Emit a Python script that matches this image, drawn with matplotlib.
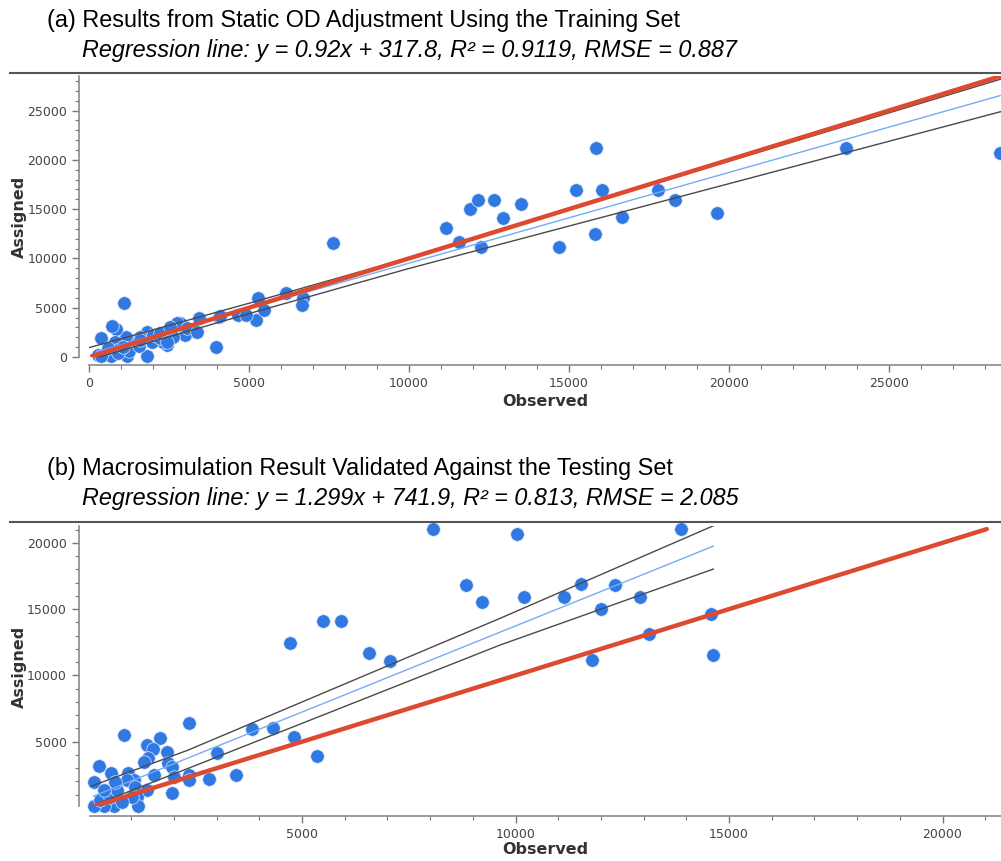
import numpy as np
import matplotlib
matplotlib.use("Agg")
import matplotlib.pyplot as plt

# --- (a) training set ---
obs_a = [7635, 11156, 11572, 11906, 12146, 12250, 12666, 12947, 13490, 14688,
         15229, 15853, 15813, 16031, 16646, 17781, 18303, 19615, 23656, 28470,
         1104, 6678, 6650, 6156, 5271, 5219, 5469, 4666, 4906, 4063,
         3969, 3447, 3334, 3000, 2844, 2740, 2635, 2428, 2323, 1958,
         1802, 1802, 1594, 1177, 1156, 844, 709, 813, 375, 594,
         281, 698, 1198, 1250, 885, 1490, 2010, 2220, 580, 365,
         910, 1560, 1060, 1594, 2219, 3053, 2531, 3365, 4094, 2428]
asg_a = [11560, 13110, 11630, 15007, 15920, 11120, 15920, 14125, 15545, 11120,
         16934, 21160, 12503, 16934, 14166, 16934, 15920, 14632, 21160, 20655,
         5445, 5952, 5273, 6520, 5952, 3752, 4766, 4259, 4259, 4087,
         1045, 3924, 2565, 2230, 3417, 3400, 2060, 1217, 1555, 1555,
         2565, 100, 2060, 100, 2060, 2810, 3143, 1555, 1893, 372,
         170, 100, 900, 560, 730, 1390, 2230, 1890, 900, 100,
         420, 1120, 1060, 1724, 2400, 2910, 3072, 2565, 4157, 1555]
slope_a, icpt_a = 0.92, 317.8
band_x_a = [0, 5000, 10000, 28500]
band_up_a = [950, 5450, 10060, 28190]
band_lo_a = [-300, 4400, 8980, 24890]

# --- (b) testing set ---
obs_b = [8075, 8834, 9223, 5499, 5914, 4719, 6577, 7061, 3837, 4313,
         4813, 5344, 3454, 2829, 3002, 2354, 2354, 2354, 1675, 1363,
         1518, 1387, 1300, 1831, 1870, 1948, 2002, 1963, 1541, 831,
         246, 129, 527, 932, 1055, 898, 1094, 1363, 1129, 1167,
         586, 352, 117, 273, 507, 664, 352, 625, 1014, 781,
         10043, 10207, 11143, 11541, 11792, 12003, 12331, 12916, 13135, 13877,
         14579, 14633]
asg_b = [21037, 16814, 15555, 14100, 14100, 12467, 11663, 11110, 5957, 6057,
         5378, 3921, 2488, 2162, 4172, 6434, 2488, 2111, 5253, 4750,
         4424, 3770, 3443, 4248, 3368, 3117, 2363, 1106, 2488, 5479,
         3167, 1985, 2614, 2614, 2110, 2110, 1608, 1357, 852, 151,
         151, 151, 151, 603, 852, 1357, 1357, 1985, 852, 477,
         20660, 15887, 15887, 16912, 11137, 14982, 16837, 15887, 13120, 21037,
         14605, 11536]
slope_b, icpt_b = 1.299, 741.9
band_x_b = [75, 2337, 9637, 14633]
band_up_b = [1659, 4373, 14303, 21286]
band_lo_b = [151, 2993, 12290, 18021]

W, H = 1001, 861
fig = plt.figure(figsize=(W / 100, H / 100), dpi=100)


def box(x0, y0, x1, y1):
    # pixel box (top-left origin) -> figure fraction
    return [x0 / W, 1 - y1 / H, (x1 - x0) / W, (y1 - y0) / H]


def panel(ax, obs, asg, slope, icpt, bx, bup, blo, xlim, ylim, xoff, yoff):
    obs = np.array(obs)
    asg = np.array(asg)
    ax.scatter(obs, asg, s=95, color="#3079e3", edgecolors="#dfe9f8",
               linewidths=0.5, zorder=2, clip_on=False)
    ax.plot(bx, bup, color="#4a4a4a", lw=1.0, zorder=3)
    ax.plot(bx, blo, color="#4a4a4a", lw=1.0, zorder=3)
    xr = np.array([obs.min(), obs.max()])
    ax.plot(xr, slope * xr + icpt, color="#74acf3", lw=1.0, zorder=3)
    lo = min(obs.min(), asg.min())
    hi = max(obs.max(), asg.max())
    ax.plot([lo, hi], [lo, hi], color="#dc4b31", lw=3.2, zorder=4,
            solid_capstyle="round")
    ax.set_xlim(*xlim)
    ax.set_ylim(*ylim)
    for s in ["top", "right"]:
        ax.spines[s].set_visible(False)
    ax.spines["left"].set_position(("outward", yoff))
    ax.spines["bottom"].set_position(("outward", xoff))
    for s in ["left", "bottom"]:
        ax.spines[s].set_color("#8a8a8a")
        ax.spines[s].set_linewidth(1.2)
    ax.xaxis.set_major_locator(plt.MultipleLocator(5000))
    ax.yaxis.set_major_locator(plt.MultipleLocator(5000))
    ax.xaxis.set_minor_locator(plt.MultipleLocator(1000))
    ax.yaxis.set_minor_locator(plt.MultipleLocator(1000))
    ax.tick_params(which="major", length=5, width=1, color="#777777",
                   labelsize=9, labelcolor="#444444")
    ax.tick_params(which="minor", length=3, width=0.8, color="#777777")
    ax.patch.set_visible(False)


ax1 = fig.add_axes(box(89, 76, 1001, 357))
panel(ax1, obs_a, asg_a, slope_a, icpt_a, band_x_a, band_up_a, band_lo_a,
      (0, 28500), (0, 28500), 6, 7)

ax2 = fig.add_axes(box(89.8, 526, 1001, 806))
panel(ax2, obs_b, asg_b, slope_b, icpt_b, band_x_b, band_up_b, band_lo_b,
      (30, 21370), (150, 21270), 7, 8)

# titles, subtitles and rules
def ptext(x, y, s, **kw):
    fig.text(x / W, 1 - y / H, s, **kw)

tfont = dict(family=["Liberation Sans", "DejaVu Sans"], fontsize=16.8, va="center",
             color="black")
ptext(47, 20, "(a) Results from Static OD Adjustment Using the Training Set", **tfont)
ptext(82, 50, "Regression line: y = 0.92x + 317.8, R² = 0.9119, RMSE = 0.887",
      style="italic", **tfont)
ptext(47, 468, "(b) Macrosimulation Result Validated Against the Testing Set", **tfont)
ptext(82, 499, "Regression line: y = 1.299x + 741.9, R² = 0.813, RMSE = 2.085",
      style="italic", **tfont)

for yy in [73, 522]:
    fig.add_artist(plt.Line2D([10 / W, 1], [1 - yy / H, 1 - yy / H],
                              color="#555555", lw=1.5))

lfont = dict(fontsize=11.5, fontweight="bold", color="#333333",
             ha="center", va="center")
ptext(545, 402, "Observed", **lfont)
ptext(545, 850, "Observed", **lfont)
ptext(19, 217, "Assigned", rotation=90, **lfont)
ptext(19, 667, "Assigned", rotation=90, **lfont)

fig.savefig("out.png", dpi=100)
